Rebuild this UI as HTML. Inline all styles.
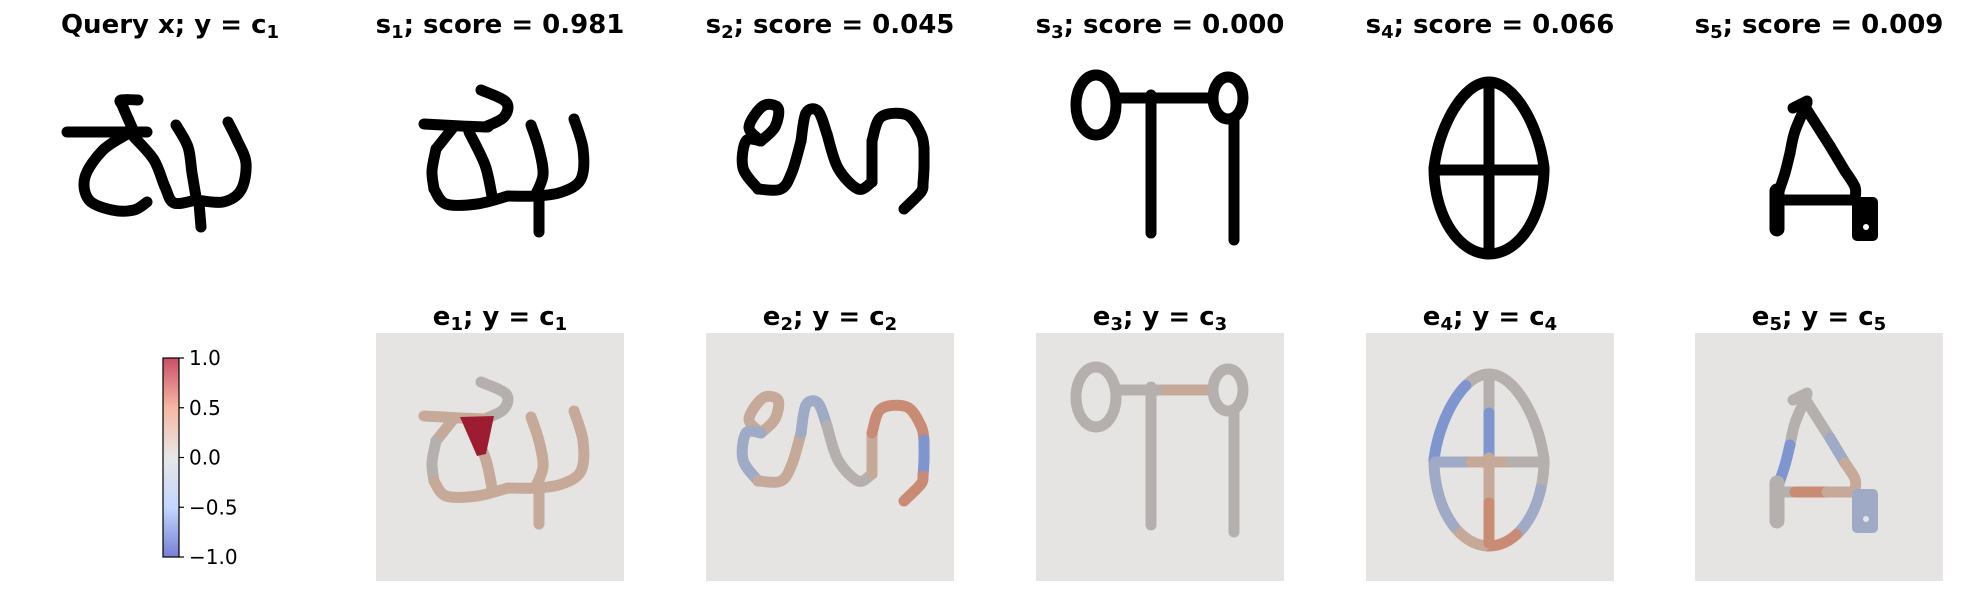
<!DOCTYPE html>
<html><head><meta charset="utf-8"><style>
html,body{margin:0;padding:0;background:#fff;}
svg{display:block;font-family:"DejaVu Sans","Liberation Sans",sans-serif;}
.t{font-weight:bold;font-size:26px;text-anchor:middle;fill:#000;}
.cb{font-size:20px;fill:#000;}
</style></head><body>
<svg id="fig" width="1963" height="591" viewBox="0 0 1963 591" xmlns="http://www.w3.org/2000/svg">
<defs>
<linearGradient id="cw" x1="0" y1="0" x2="0" y2="1">
<stop offset="0" stop-color="#ca4f67"/>
<stop offset="0.25" stop-color="#f7b8a3"/>
<stop offset="0.5" stop-color="#e7e7e7"/>
<stop offset="0.75" stop-color="#c3d7fe"/>
<stop offset="1" stop-color="#7681d3"/>
</linearGradient>
</defs>
<g id="titles">
<text class="t" x="170" y="33">Query x; y = c<tspan font-size="18" dy="5">1</tspan></text>
<text class="t" x="500" y="33">s<tspan font-size="18" dy="5">1</tspan><tspan dy="-5">; score = 0.981</tspan></text>
<text class="t" x="830" y="33">s<tspan font-size="18" dy="5">2</tspan><tspan dy="-5">; score = 0.045</tspan></text>
<text class="t" x="1160" y="33">s<tspan font-size="18" dy="5">3</tspan><tspan dy="-5">; score = 0.000</tspan></text>
<text class="t" x="1490" y="33">s<tspan font-size="18" dy="5">4</tspan><tspan dy="-5">; score = 0.066</tspan></text>
<text class="t" x="1819" y="33">s<tspan font-size="18" dy="5">5</tspan><tspan dy="-5">; score = 0.009</tspan></text>
<text class="t" x="500" y="325">e<tspan font-size="18" dy="5">1</tspan><tspan dy="-5">; y = c</tspan><tspan font-size="18" dy="5">1</tspan></text>
<text class="t" x="830" y="325">e<tspan font-size="18" dy="5">2</tspan><tspan dy="-5">; y = c</tspan><tspan font-size="18" dy="5">2</tspan></text>
<text class="t" x="1160" y="325">e<tspan font-size="18" dy="5">3</tspan><tspan dy="-5">; y = c</tspan><tspan font-size="18" dy="5">3</tspan></text>
<text class="t" x="1490" y="325">e<tspan font-size="18" dy="5">4</tspan><tspan dy="-5">; y = c</tspan><tspan font-size="18" dy="5">4</tspan></text>
<text class="t" x="1819" y="325">e<tspan font-size="18" dy="5">5</tspan><tspan dy="-5">; y = c</tspan><tspan font-size="18" dy="5">5</tspan></text>
</g>
<g id="panels"></g>
<g id="colorbar">
<rect x="163" y="358" width="16" height="199" fill="url(#cw)" stroke="#000" stroke-width="1.2"/>
</g>
</svg>
<script>
const cbTicks = [1.0, 0.5, 0.0, -0.5, -1.0];
const cbLabels = ["1.0", "0.5", "0.0", "\u22120.5", "\u22121.0"];
const cbMin = -1.0, cbMax = 1.0;

const NS = "http://www.w3.org/2000/svg";
function mk(tag, attrs, parent) {
  const e = document.createElementNS(NS, tag);
  for (const k in attrs) e.setAttribute(k, attrs[k]);
  parent.appendChild(e);
  return e;
}
const cbTop = 358, cbBot = 557;
function cbY(v) { return cbBot - (v - cbMin) / (cbMax - cbMin) * (cbBot - cbTop); }
const cb = document.getElementById('colorbar');
cbTicks.forEach((v, i) => {
  const y = cbY(v);
  const tk = mk('line', {x1: 179, x2: 184, y1: y, y2: y, stroke: '#000', 'stroke-width': 1.2}, cb);
  
  
  const tx = mk('text', {x: 189, y: y + 7, class: 'cb'}, cb);
  tx.textContent = cbLabels[i];
  
  
});

const C = {g:'#b5b0ad', t:'#c6a999', r:'#c98b74', b:'#9eaac6', B:'#7f95d0', R:'#9d1c31'};
const queryGlyph = [
  {p:[[21,91],[60,91],[101,91]],c:'g'},
  {p:[[88,91],[77,66],[75,59],[92,59]],c:'g'},
  {p:[[83,92],[57,109],[39,136],[43,159],[66,169],[88,169],[101,161]],c:'g'},
  {p:[[88,96],[108,119],[119,146],[128,162],[150,159]],c:'g'},
  {p:[[130,84],[142,106],[146,132],[150,156]],c:'g'},
  {p:[[150,159],[177,161],[195,149],[200,122],[191,99],[182,81]],c:'g'},
  {p:[[153,162],[155,186]],c:'g'}
];
const g1 = [
  {p:[[105,49],[130,61],[128,76],[109,86]],c:'g'},
  {p:[[48,83],[85,85],[112,86]],c:'t'},
  {p:[[76,88],[60,108]],c:'t'},
  {p:[[60,108],[56,130],[58,148]],c:'g'},
  {p:[[58,148],[70,163],[101,163],[132,155]],c:'t'},
  {p:[[93,91],[109,124],[116,155]],c:'t'},
  {p:[[155,84],[163,108],[167,134],[159,155]],c:'t'},
  {p:[[132,155],[159,155],[186,151],[205,138],[207,108],[198,78]],c:'t'},
  {p:[[163,158],[163,191]],c:'t'},
  {poly:[[84,84],[118,83],[110,121],[101,123]],c:'R'}
];
const g2 = [
  {p:[[55,100],[43,86],[57,65],[72,67],[69,86],[55,100]],c:'t'},
  {p:[[55,100],[40,100],[37,127],[52,148]],c:'b'},
  {p:[[52,148],[75,148],[86,131],[95,100]],c:'t'},
  {p:[[95,100],[100,72],[112,70],[121,93]],c:'b'},
  {p:[[121,93],[132,127],[152,148],[166,141]],c:'g'},
  {p:[[166,141],[166,100]],c:'t'},
  {p:[[166,100],[175,76],[201,74],[215,93],[218,107]],c:'r'},
  {p:[[218,107],[218,127],[217,143]],c:'B'},
  {p:[[217,143],[215,151],[198,168]],c:'r'}
];
const g3 = [
  {e:[60,64,20,30],c:'g'},
  {p:[[80,57],[130,57]],c:'g'},
  {p:[[130,57],[176,57]],c:'t'},
  {e:[192,57,15,21],c:'g'},
  {p:[[115,54],[115,192]],c:'g'},
  {p:[[198,79],[198,199]],c:'g'}
];
function egg(a0, a1) { const pts = []; for (let a = a0; a <= a1 + 0.001; a += 5) { const r = a * Math.PI / 180; const rx = 55 - (Math.sin(r) < 0 ? 10 * -Math.sin(r) : 0); pts.push([123 + rx * Math.cos(r), 127 + 86 * Math.sin(r)]); } return pts; }
const g4 = [
  {p:egg(-120,-60),c:'g'},
  {p:egg(-60,20),c:'g'},
  {p:egg(20,60),c:'b'},
  {p:egg(60,95),c:'r'},
  {p:egg(95,130),c:'t'},
  {p:egg(130,180),c:'b'},
  {p:egg(180,240),c:'B'},
  {p:[[123,41],[123,80]],c:'g'},
  {p:[[123,80],[123,125]],c:'B'},
  {p:[[123,125],[123,170]],c:'t'},
  {p:[[123,170],[123,210]],c:'r'},
  {p:[[69,129],[105,129]],c:'b'},
  {p:[[105,129],[145,129]],c:'t'},
  {p:[[145,129],[178,129]],c:'g'}
];
const g5 = [
  {p:[[98,67],[112,60]],c:'g'},
  {p:[[112,62],[100,90],[95,112]],c:'g'},
  {p:[[95,112],[90,132],[84,150]],c:'B'},
  {p:[[112,69],[135,105]],c:'g'},
  {p:[[135,105],[150,130]],c:'b'},
  {p:[[150,130],[160,146],[160,158]],c:'t'},
  {p:[[80,159],[100,159]],c:'g'},
  {p:[[100,159],[132,159]],c:'r'},
  {p:[[132,159],[158,159]],c:'t'},
  {p:[[82,150],[82,188]],c:'g',w:15},
  {rect:[157,156,26,44],c:'b'}
];
const boxesX = [46, 376, 706, 1036, 1366, 1695];
const row1Y = 41, row2Y = 333, BS = 248;
const glyphs = [queryGlyph, g1, g2, g3, g4, g5];
const panels = document.getElementById('panels');
function smooth(p) {
  if (p.length < 3) return 'M' + p.map(q => q.join(' ')).join(' L');
  let d = 'M' + p[0][0] + ' ' + p[0][1];
  for (let i = 0; i < p.length - 1; i++) {
    const p0 = p[Math.max(0, i - 1)], p1 = p[i], p2 = p[i + 1], p3 = p[Math.min(p.length - 1, i + 2)];
    const c1 = [p1[0] + (p2[0] - p0[0]) / 6, p1[1] + (p2[1] - p0[1]) / 6];
    const c2 = [p2[0] - (p3[0] - p1[0]) / 6, p2[1] - (p3[1] - p1[1]) / 6];
    d += ` C${c1[0]} ${c1[1]} ${c2[0]} ${c2[1]} ${p2[0]} ${p2[1]}`;
  }
  return d;
}
function draw(glyph, ox, oy, colored, name) {
  const g = mk('g', {transform: `translate(${ox},${oy})`}, panels);
  
  
  if (colored) mk('rect', {x: 0, y: 0, width: BS, height: BS, fill: '#e5e4e3'}, g);
  glyph.forEach(s => {
    const col = colored ? C[s.c] : '#000';
    if (s.p) mk('path', {d: smooth(s.p), fill: 'none', stroke: col, 'stroke-width': s.w || 11, 'stroke-linejoin': 'round', 'stroke-linecap': 'round'}, g);
    else if (s.e) mk('ellipse', {cx: s.e[0], cy: s.e[1], rx: s.e[2], ry: s.e[3], fill: 'none', stroke: col, 'stroke-width': 11}, g);
    else if (s.poly) mk('polygon', {points: s.poly.map(q => q.join(',')).join(' '), fill: colored ? col : 'none'}, g);
    else if (s.rect) { mk('rect', {x: s.rect[0], y: s.rect[1], width: s.rect[2], height: s.rect[3], rx: 5, fill: col}, g); mk('circle', {cx: s.rect[0] + 14, cy: s.rect[1] + 30, r: 3, fill: colored ? '#e5e4e3' : '#fff'}, g); }
  });
}
glyphs.forEach((gl, i) => {
  draw(gl, boxesX[i], row1Y, false, i === 0 ? 'query-image' : 'support-image-' + i);
  if (i > 0) draw(gl, boxesX[i], row2Y, true, 'explanation-map-' + i);
});
</script>
</body></html>
